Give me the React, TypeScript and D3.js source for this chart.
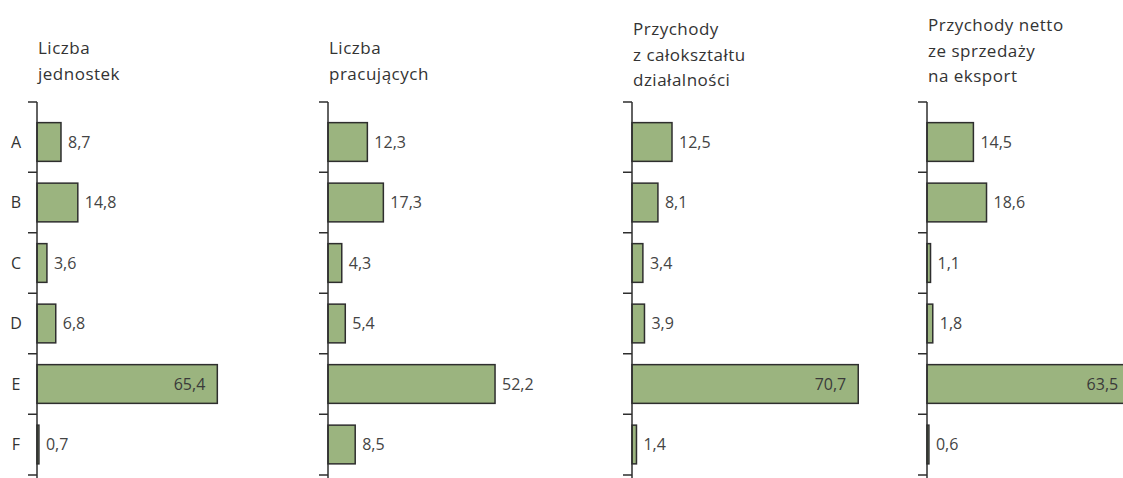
import React from "react";
import * as d3 from "d3";

const categories = ["A", "B", "C", "D", "E", "F"];

const titles = [
  ["Liczba", "jednostek"],
  ["Liczba", "pracujących"],
  ["Przychody", "z całokształtu", "działalności"],
  ["Przychody netto", "ze sprzedaży", "na eksport"],
];

const jednostki = [8.7, 14.8, 3.6, 6.8, 65.4, 0.7];
const pracujacy = [12.3, 17.3, 4.3, 5.4, 52.2, 8.5];
const przychody = [12.5, 8.1, 3.4, 3.9, 70.7, 1.4];
const eksport = [14.5, 18.6, 1.1, 1.8, 63.5, 0.6];

const series = [jednostki, pracujacy, przychody, eksport];

const W = 1123;
const H = 478;

// panel layout, axis x and pixels per 70 units
const panels = [
  { x: 37, span: 193, titleY: 54, inside: true },
  { x: 328, span: 224, titleY: 54, inside: false },
  { x: 632, span: 224, titleY: 35, inside: true },
  { x: 927, span: 224, titleY: 31, inside: true },
];

const fmt = (v: number) => v.toFixed(1).replace(".", ",");

export default function App() {
  const y = d3
    .scaleBand<string>()
    .domain(categories)
    .range([111.75, 474.75])
    .paddingInner(0.36)
    .paddingOuter(0.18);

  const boundaries = categories.slice(1).map((c) => (y(c) as number) - (y.step() * 0.36) / 2);
  const ticks = [102, ...boundaries, 475];

  return (
    <svg
      width={W}
      height={H}
      style={{ position: "absolute", left: 0, top: 0, background: "#fff" }}
      fontFamily="'Open Sans', sans-serif"
    >
      {categories.map((c) => (
        <text
          key={c}
          x={16}
          y={(y(c) as number) + y.bandwidth() / 2}
          dy="0.36em"
          textAnchor="middle"
          fontSize={16}
          fill="#333"
        >
          {c}
        </text>
      ))}
      {panels.map((p, pi) => {
        const x = d3.scaleLinear().domain([0, 70]).range([p.x, p.x + p.span]);
        const data = series[pi];
        return (
          <g key={pi}>
            {titles[pi].map((t, li) => (
              <text
                key={li}
                x={p.x + 1}
                y={p.titleY + li * 25.5}
                fontSize={17}
                letterSpacing={0.5}
                fill="#333"
              >
                {t}
              </text>
            ))}
            {data.map((v, i) => {
              const c = categories[i];
              const y0 = y(c) as number;
              const x1 = x(v);
              const inside = p.inside && v > 50;
              return (
                <g key={c}>
                  <rect
                    x={x(0)}
                    y={y0}
                    width={x1 - x(0)}
                    height={y.bandwidth()}
                    fill="#9bb47f"
                    stroke="#2e2e2e"
                    strokeWidth={1.5}
                  />
                  <text
                    x={inside ? x1 - 12 : x1 + 7}
                    y={y0 + y.bandwidth() / 2}
                    dy="0.36em"
                    textAnchor={inside ? "end" : "start"}
                    fontSize={16}
                    fill={inside ? "#3a3a3a" : "#444"}
                  >
                    {fmt(v)}
                  </text>
                </g>
              );
            })}
            <line x1={p.x} x2={p.x} y1={102} y2={H} stroke="#2e2e2e" strokeWidth={1.5} />
            {ticks.map((t, ti) => (
              <line key={ti} x1={p.x - 9} x2={p.x} y1={t} y2={t} stroke="#2e2e2e" strokeWidth={1.5} />
            ))}
          </g>
        );
      })}
    </svg>
  );
}
